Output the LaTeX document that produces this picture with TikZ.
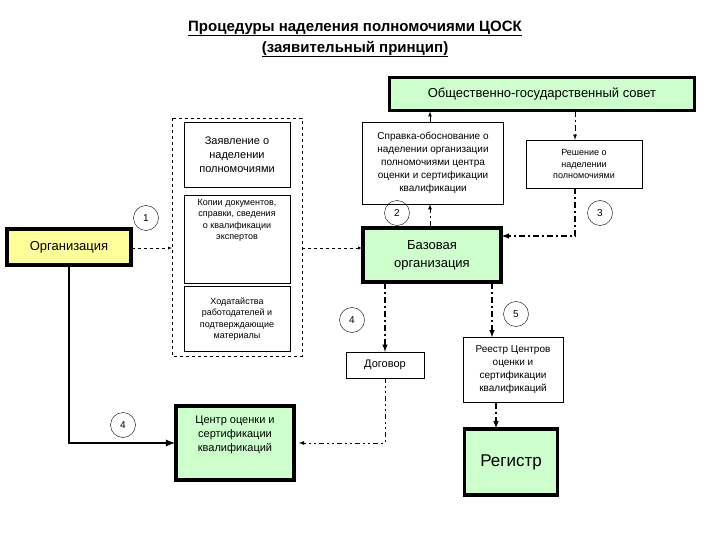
\documentclass[tikz,border=0pt]{standalone}
\usepackage{fontspec}
\setmainfont{Liberation Sans}
\usetikzlibrary{positioning,calc,arrows}
\definecolor{lgreen}{RGB}{204,255,204}
\definecolor{lyellow}{RGB}{255,255,153}
\begin{document}
\begin{tikzpicture}[x=1pt,y=-1pt,>=latex,
    doc node/.style={draw,thin,align=center,inner sep=1pt,font=\fontsize{9}{11.5}\selectfont},
    main node/.style={draw,line width=1.6pt,double=black,double distance=0.5pt,align=center,inner sep=2pt},
    num node/.style={circle,draw,thin,minimum size=25pt,inner sep=0pt,font=\fontsize{10}{11}\selectfont},
    dline/.style={thick,dash pattern=on 6pt off 3pt on 2pt off 3pt}]
    \useasboundingbox (0,0) rectangle (720,540);
    % title
      \node[font=\bfseries\fontsize{15}{21}\selectfont,align=center] (title) at (355,39)
        {\underline{Процедуры наделения полномочиями ЦОСК}\\\underline{(заявительный принцип)}};
    % nodes
      \node[main node,fill=lgreen,minimum width=305pt,minimum height=33pt,font=\fontsize{13}{15}\selectfont] (council) at (542,94) {Общественно-государственный совет};
      \draw[thin,dashed] (172,118) rectangle (302,356);
      \node[doc node,minimum width=106pt,minimum height=65pt,font=\fontsize{11}{14}\selectfont] (appl) at (237,155) {Заявление о\\наделении\\полномочиями};
      \node[doc node,minimum width=106pt,minimum height=88pt,anchor=north,text depth=40pt] (copies) at (237,195) {Копии документов,\\справки, сведения\\о квалификации\\экспертов};
      \node[doc node,minimum width=106pt,minimum height=65pt] (petit) at (237,319) {Ходатайства\\работодателей и\\подтверждающие\\материалы};
      \node[doc node,minimum width=141pt,minimum height=82pt,font=\fontsize{10}{13}\selectfont] (ref) at (433,163) {Справка-обоснование о\\наделении организации\\полномочиями центра\\оценки и сертификации\\квалификации};
      \node[doc node,minimum width=116pt,minimum height=48pt] (decis) at (584,164) {Решение о\\наделении\\полномочиями};
      \node[main node,fill=lyellow,minimum width=124pt,minimum height=36pt,font=\fontsize{13}{15}\selectfont] (org) at (69,247) {Организация};
      \node[main node,fill=lgreen,minimum width=138pt,minimum height=54pt,font=\fontsize{13}{18}\selectfont] (base) at (432,255) {Базовая\\организация};
      \node[doc node,minimum width=78pt,minimum height=26pt,font=\fontsize{11}{13}\selectfont] (contract) at (385,365) {Договор};
      \node[doc node,minimum width=100pt,minimum height=65pt,font=\fontsize{10}{13}\selectfont] (reestr) at (513,370) {Реестр Центров\\оценки и\\сертификации\\квалификаций};
      \node[main node,fill=lgreen,minimum width=118pt,minimum height=74pt,font=\fontsize{11}{14}\selectfont,text depth=18pt] (centre) at (235,443) {Центр оценки и\\сертификации\\квалификаций};
      \node[main node,fill=lgreen,minimum width=93pt,minimum height=66pt,font=\fontsize{17}{19}\selectfont] (reg) at (511,462) {Регистр};
      \node[num node] (n1) at (146,218) {1};
      \node[num node] (n2) at (397,213) {2};
      \node[num node] (n3) at (600,213) {3};
      \node[num node] (n4a) at (352,320) {4};
      \node[num node] (n5) at (516,314) {5};
      \node[num node] (n4b) at (123,425) {4};
      \coordinate (grp) at (172,248);
      \coordinate (grpr) at (302,248);
    %edges
      \draw[->,dashed] (org.east |- 0,248) -- (grp);
      \draw[->,dashed] (grpr) -- (base.west |- 0,248);
      \draw[->,dline] (base.north -| 430,0) -- (ref.south -| 430,0);
      \draw[->,dline] (ref.north -| 430,0) -- (council.south -| 430,0);
      \draw[->,dline] (council.south -| 575,0) -- (decis.north -| 575,0);
      \draw[->,dline,line width=1.5pt] (decis.south -| 575,0) |- (base.east |- 0,236);
      \draw[->,dline,line width=1.5pt] (base.south -| 385,0) -- (contract.north);
      \draw[->,dline,line width=1.5pt] (base.south -| 492,0) -- (reestr.north -| 492,0);
      \draw[->,dline,line width=1.5pt] (reestr.south -| 496,0) -- (reg.north -| 496,0);
      \draw[->,thick,dash pattern=on 5pt off 3pt on 2pt off 3pt on 2pt off 3pt] (contract.south) |- ($(centre.east)+(4,0)$);
      \draw[->,line width=2.2pt] (org.south) |- (centre.west);
\end{tikzpicture}
\end{document}
